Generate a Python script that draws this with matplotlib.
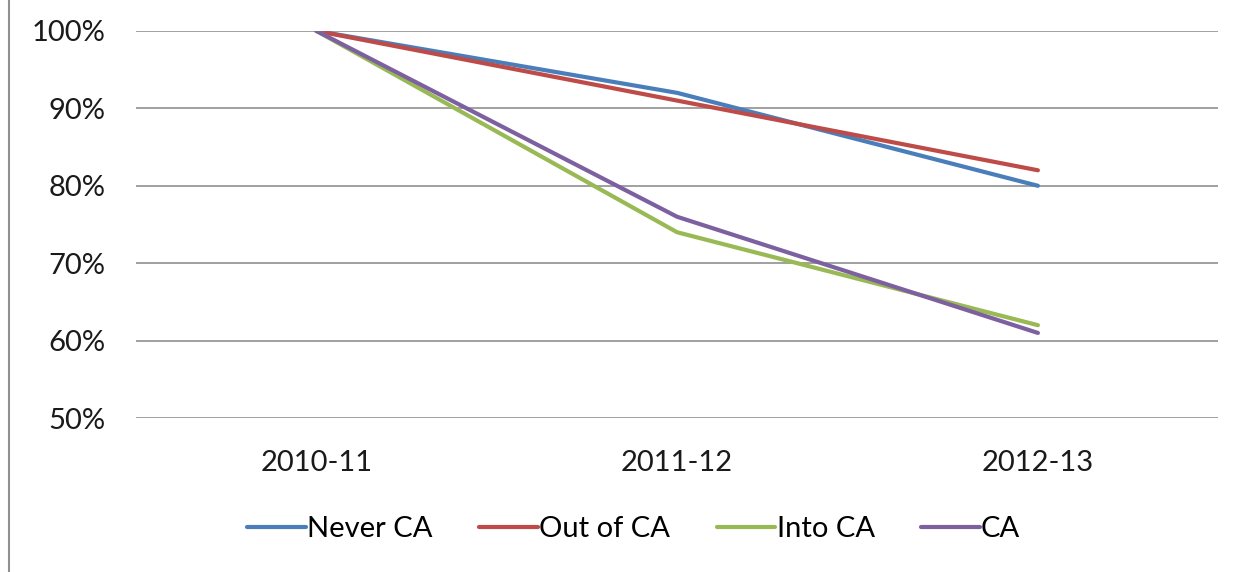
import matplotlib.pyplot as plt
from matplotlib.lines import Line2D
from matplotlib.ticker import PercentFormatter

years = ['2010-11', '2011-12', '2012-13']
never_ca = [100, 92, 80]
out_of_ca = [100, 91, 82]
into_ca = [100, 74, 62]
ca = [100, 76, 61]

series = [
    ('Never CA', never_ca, '#4a7ebb'),
    ('Out of CA', out_of_ca, '#be4b48'),
    ('Into CA', into_ca, '#98b954'),
    ('CA', ca, '#7d60a0'),
]

plt.rcParams['font.family'] = ['Lato', 'DejaVu Sans']

fig = plt.figure(figsize=(12.47, 5.72), dpi=100)
ax = fig.add_axes([0.109, 0.269, 0.868, 0.677])

x = range(len(years))
for name, vals, col in series:
    ax.plot(x, vals, color=col, lw=3, label=name, solid_capstyle='round')

ax.set_xlim(-0.5, 2.5)
ax.set_ylim(50, 100)
ax.set_yticks([50, 60, 70, 80, 90, 100])
ax.yaxis.set_major_formatter(PercentFormatter(decimals=0))
ax.set_xticks(list(x))
ax.set_xticklabels(years)
ax.grid(axis='y', color='#a0a0a0', lw=1.4)
ax.set_axisbelow(True)
ax.tick_params(length=0, labelsize=21, colors='#1a1a1a')
ax.tick_params(axis='y', pad=22)
ax.tick_params(axis='x', pad=23)
for s in ax.spines.values():
    s.set_visible(False)

ax.legend(loc='upper center', bbox_to_anchor=(0.46, -0.185), ncol=4, frameon=False,
          fontsize=21, handlelength=2.0, handletextpad=0.05, columnspacing=1.6)

fig.add_artist(Line2D([0.0075, 0.0075], [0, 1], color='#909090', lw=1.5))

fig.savefig('out.png', dpi=100)
